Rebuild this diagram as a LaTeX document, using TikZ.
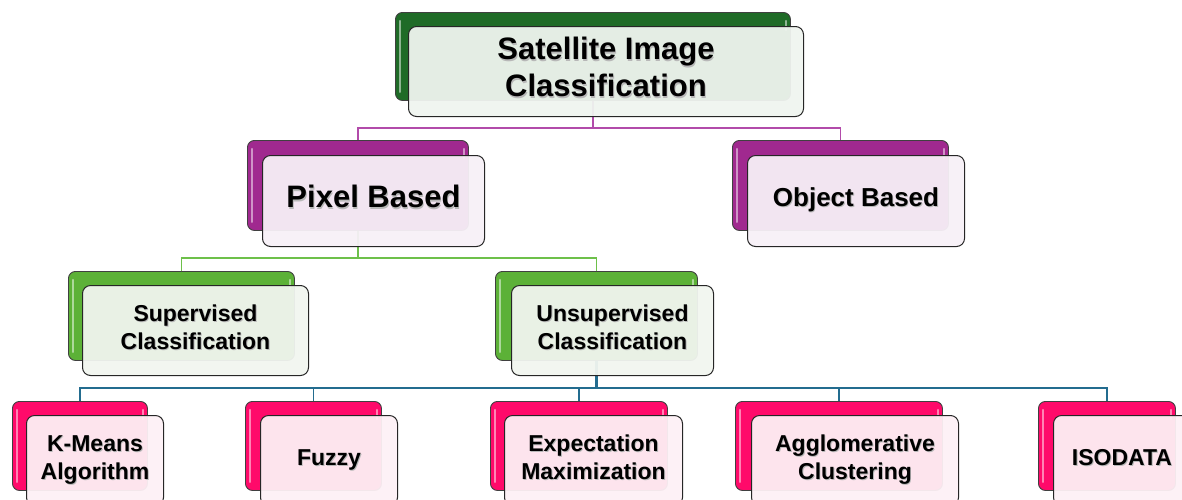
\documentclass[tikz,border=0pt]{standalone}
\usepackage{fontspec}
\setmainfont{Liberation Sans}
\usetikzlibrary{calc}

% palette
\definecolor{rootBack}{HTML}{1F6B27}
\definecolor{rootFront}{HTML}{EFF4EF}
\definecolor{purpBack}{HTML}{A0298F}
\definecolor{purpFront}{HTML}{F7F0F7}
\definecolor{lgBack}{HTML}{5CB137}
\definecolor{lgFront}{HTML}{F1F5EF}
\definecolor{pinkBack}{HTML}{FF0A6A}
\definecolor{pinkFront}{HTML}{FDF0F5}
\definecolor{linkPurp}{HTML}{B24BAA}
\definecolor{linkGreen}{HTML}{6DC04A}
\definecolor{linkBlue}{HTML}{236C8F}

% bold label with a soft drop shadow behind it
\newcommand\glowtext[1]{%
  \rlap{\kern0.9pt\raisebox{-1.3pt}{\color{black!28}\begin{tabular}{@{}c@{}}#1\end{tabular}}}%
  \begin{tabular}{@{}c@{}}#1\end{tabular}}

\tikzset{
  backbox/.style={draw=black!75, line width=0.9pt, rounded corners=7pt,
    anchor=north west, inner sep=0pt, minimum height=89pt},
  frontbox/.style={draw=black!85, line width=1pt, rounded corners=8pt,
    anchor=north west, inner sep=0pt, minimum height=90pt,
    fill opacity=0.95, text opacity=1},
  gloss/.style={white, opacity=0.5, line width=2.4pt, line cap=round},
  stem/.style={line width=2.2pt},
  bus/.style={line width=1.4pt},
  big/.style={font=\bfseries\fontsize{31}{37}\selectfont},
  mid/.style={font=\bfseries\fontsize{26}{30}\selectfont},
  small/.style={font=\bfseries\fontsize{23}{28}\selectfont},
}

\begin{document}
\begin{tikzpicture}[x=1pt, y=-1pt]
\useasboundingbox (0,0) rectangle (1182,499);
\clip (0,0) rectangle (1182,499);

% ---- back (coloured) plates ----
\node[backbox, fill=rootBack, minimum width=395pt, minimum height=88pt] (rootB) at (395,12) {};
\node[backbox, fill=purpBack, minimum width=221pt, minimum height=90pt] (pixB) at (247,140) {};
\node[backbox, fill=purpBack, minimum width=216pt, minimum height=90pt] (objB) at (732,140) {};
\node[backbox, fill=lgBack, minimum width=226pt] (supB) at (68,271) {};
\node[backbox, fill=lgBack, minimum width=202pt] (unsB) at (495,271) {};
\node[backbox, fill=pinkBack, minimum width=135pt] (kmB) at (12,401) {};
\node[backbox, fill=pinkBack, minimum width=136pt] (fzB) at (245,401) {};
\node[backbox, fill=pinkBack, minimum width=177pt] (emB) at (490,401) {};
\node[backbox, fill=pinkBack, minimum width=207pt] (agB) at (735,401) {};
\node[backbox, fill=pinkBack, minimum width=137pt] (isB) at (1038,401) {};

% glossy streaks on the plates
\foreach \n in {rootB,pixB,objB,supB,unsB,kmB,fzB,emB,agB,isB}{
  \draw[gloss] ([shift={(5pt,-9pt)}]\n.north west) -- ([shift={(5pt,9pt)}]\n.south west);
  \draw[gloss] ([shift={(-5pt,-9pt)}]\n.north east) -- ([shift={(-5pt,-18pt)}]\n.north east);
}

% ---- connectors ----
\coordinate (busA) at (0,128);
\coordinate (busB) at (0,258);
\coordinate (busC) at (0,388);

\draw[linkPurp, stem] (rootB.south) -- (rootB.south |- busA);
\draw[linkPurp, bus] (rootB.south |- busA) -| (pixB.north);
\draw[linkPurp, bus] (rootB.south |- busA) -| (objB.north);

\draw[linkGreen, stem] (pixB.south) -- (pixB.south |- busB);
\draw[linkGreen, bus] (pixB.south |- busB) -| (supB.north);
\draw[linkGreen, bus] (pixB.south |- busB) -| (unsB.north);

\draw[linkBlue, stem] (unsB.south) -- (unsB.south |- busC);
\draw[linkBlue, bus] (unsB.south |- busC) -| (kmB.north);
\draw[linkBlue, bus] (unsB.south |- busC) -| (fzB.north);
\draw[linkBlue, bus] (unsB.south |- busC) -| (emB.north);
\draw[linkBlue, bus] (unsB.south |- busC) -| (agB.north);
\draw[linkBlue, bus] (unsB.south |- busC) -| (isB.north);

% ---- front (label) cards ----
\node[frontbox, big, fill=rootFront, minimum width=395pt] (root) at (408,26)
  {\glowtext{Satellite Image\\Classification}};
\node[frontbox, big, fill=purpFront, minimum width=222pt, minimum height=91pt] (pix) at (262,155)
  {\glowtext{Pixel Based}};
\node[frontbox, mid, fill=purpFront, minimum width=217pt, minimum height=91pt] (obj) at (747,155)
  {\glowtext{Object Based}};
\node[frontbox, small, fill=lgFront, minimum width=226pt] (sup) at (82,285)
  {\glowtext{Supervised\\Classification}};
\node[frontbox, small, fill=lgFront, minimum width=202pt] (uns) at (511,285)
  {\glowtext{Unsupervised\\Classification}};
\node[frontbox, small, fill=pinkFront, minimum width=137pt] (km) at (26,415)
  {\glowtext{K-Means\\Algorithm}};
\node[frontbox, small, fill=pinkFront, minimum width=137pt] (fz) at (260,415)
  {\glowtext{Fuzzy}};
\node[frontbox, small, fill=pinkFront, minimum width=178pt] (em) at (504,415)
  {\glowtext{Expectation\\Maximization}};
\node[frontbox, small, fill=pinkFront, minimum width=207pt] (ag) at (751,415)
  {\glowtext{Agglomerative\\Clustering}};
\node[frontbox, small, fill=pinkFront, minimum width=137pt] (is) at (1053,415)
  {\glowtext{ISODATA}};
\end{tikzpicture}
\end{document}
